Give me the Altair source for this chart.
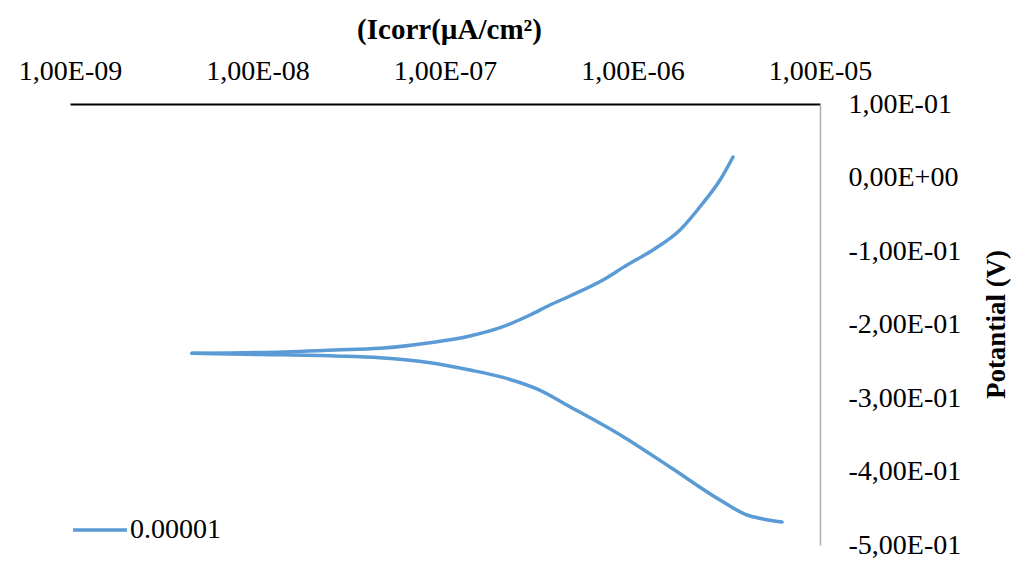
import math
import altair as alt
import pandas as pd

# Cathodic branch (from Ecorr outward)
cath_current = [4.47e-9, 1.031e-8, 2.59e-8, 4.50e-8, 8.32e-8, 1.36e-7, 2.04e-7,
                3.09e-7, 4.64e-7, 8.58e-7, 1.585e-6, 2.93e-6, 4.08e-6, 4.97e-6, 6.27e-6]
cath_potential = [-0.2392, -0.2408, -0.2428, -0.2452, -0.2520, -0.2619, -0.2720,
                  -0.2877, -0.3118, -0.3499, -0.3939, -0.4388, -0.4592, -0.4646, -0.4687]

# Anodic branch (from Ecorr outward)
an_current = [4.47e-9, 1.031e-8, 2.59e-8, 4.50e-8, 8.32e-8, 1.36e-7, 2.04e-7,
              2.84e-7, 3.63e-7, 4.64e-7, 6.96e-7, 9.35e-7, 1.286e-6, 1.792e-6,
              2.377e-6, 2.93e-6, 3.436e-6]
an_potential = [-0.2392, -0.2381, -0.2347, -0.2324, -0.2248, -0.2156, -0.2030,
                -0.1871, -0.1735, -0.1612, -0.1394, -0.1190, -0.0986, -0.0714,
                -0.0347, -0.0034, 0.0279]

series_name = "0.00001"

x_tick_values = [1e-9, 1e-8, 1e-7, 1e-6, 1e-5]
x_tick_labels = ["1,00E-09", "1,00E-08", "1,00E-07", "1,00E-06", "1,00E-05"]
y_tick_values = [0.1, 0.0, -0.1, -0.2, -0.3, -0.4, -0.5]
y_tick_labels = ["1,00E-01", "0,00E+00", "-1,00E-01", "-2,00E-01",
                 "-3,00E-01", "-4,00E-01", "-5,00E-01"]

rows = []
for i, (c, p) in enumerate(zip(cath_current, cath_potential)):
    rows.append({"I": c, "E": p, "branch": "cathodic", "idx": i, "series": series_name})
for i, (c, p) in enumerate(zip(an_current, an_potential)):
    rows.append({"I": c, "E": p, "branch": "anodic", "idx": i, "series": series_name})
df = pd.DataFrame(rows)


def x_label_expr():
    expr = "''"
    for v, l in reversed(list(zip(x_tick_values, x_tick_labels))):
        lg = round(math.log10(v))
        expr = f"(abs(log(datum.value)/LN10 - ({lg})) < 0.01 ? '{l}' : {expr})"
    return expr


def y_label_expr():
    expr = "''"
    for v, l in reversed(list(zip(y_tick_values, y_tick_labels))):
        expr = f"(abs(datum.value - ({v})) < 0.001 ? '{l}' : {expr})"
    return expr


FONT = "Liberation Serif"

chart = alt.Chart(df).mark_line(strokeWidth=3.5, interpolate="monotone",
                                strokeCap="round").encode(
    x=alt.X("I:Q",
            scale=alt.Scale(type="log", domain=[1e-9, 1e-5], nice=False),
            axis=alt.Axis(
                orient="top", values=x_tick_values, labelExpr=x_label_expr(),
                title="(Icorr(µA/cm²)", titleFont=FONT, titleFontSize=29,
                titleFontWeight="bold", titleColor="black",
                titleX=379, titleY=-75, titleAlign="center",
                titleBaseline="middle",
                labelFont=FONT, labelFontSize=28, labelColor="black",
                labelPadding=19, labelFlush=False,
                ticks=False, grid=False, domainColor="black", domainWidth=2,
            )),
    y=alt.Y("E:Q",
            scale=alt.Scale(domain=[-0.5, 0.1], nice=False, zero=False),
            axis=alt.Axis(
                orient="right", values=y_tick_values, labelExpr=y_label_expr(),
                title="Potantial (V)", titleFont=FONT, titleFontSize=27,
                titleFontWeight="bold", titleColor="black", titleAngle=270,
                titleX=176, titleY=220, titleAlign="center", titleBaseline="middle",
                labelFont=FONT, labelFontSize=28, labelColor="black",
                labelPadding=28, labelAlign="left", labelBaseline="middle",
                labelFlush=False,
                ticks=False, grid=False, domainColor="#b0b0b0", domainWidth=1.5,
            )),
    color=alt.Color("series:N",
                    scale=alt.Scale(domain=[series_name], range=["#5B9BD5"]),
                    legend=alt.Legend(
                        title=None, orient="none", legendX=1, legendY=397,
                        symbolType="stroke", symbolSize=2916, symbolStrokeWidth=3.5,
                        labelFont=FONT, labelFontSize=28, labelColor="black",
                        labelOffset=1, padding=0)),
    detail="branch:N",
    order="idx:Q",
).properties(
    width=750, height=441,
    autosize=alt.AutoSizeParams(type="none"),
    padding={"left": 70, "top": 104, "right": 207, "bottom": 18},
).configure(background="white").configure_view(stroke=None, strokeWidth=0)

chart.save("out.html", embed_options={"renderer": "svg", "actions": False})
